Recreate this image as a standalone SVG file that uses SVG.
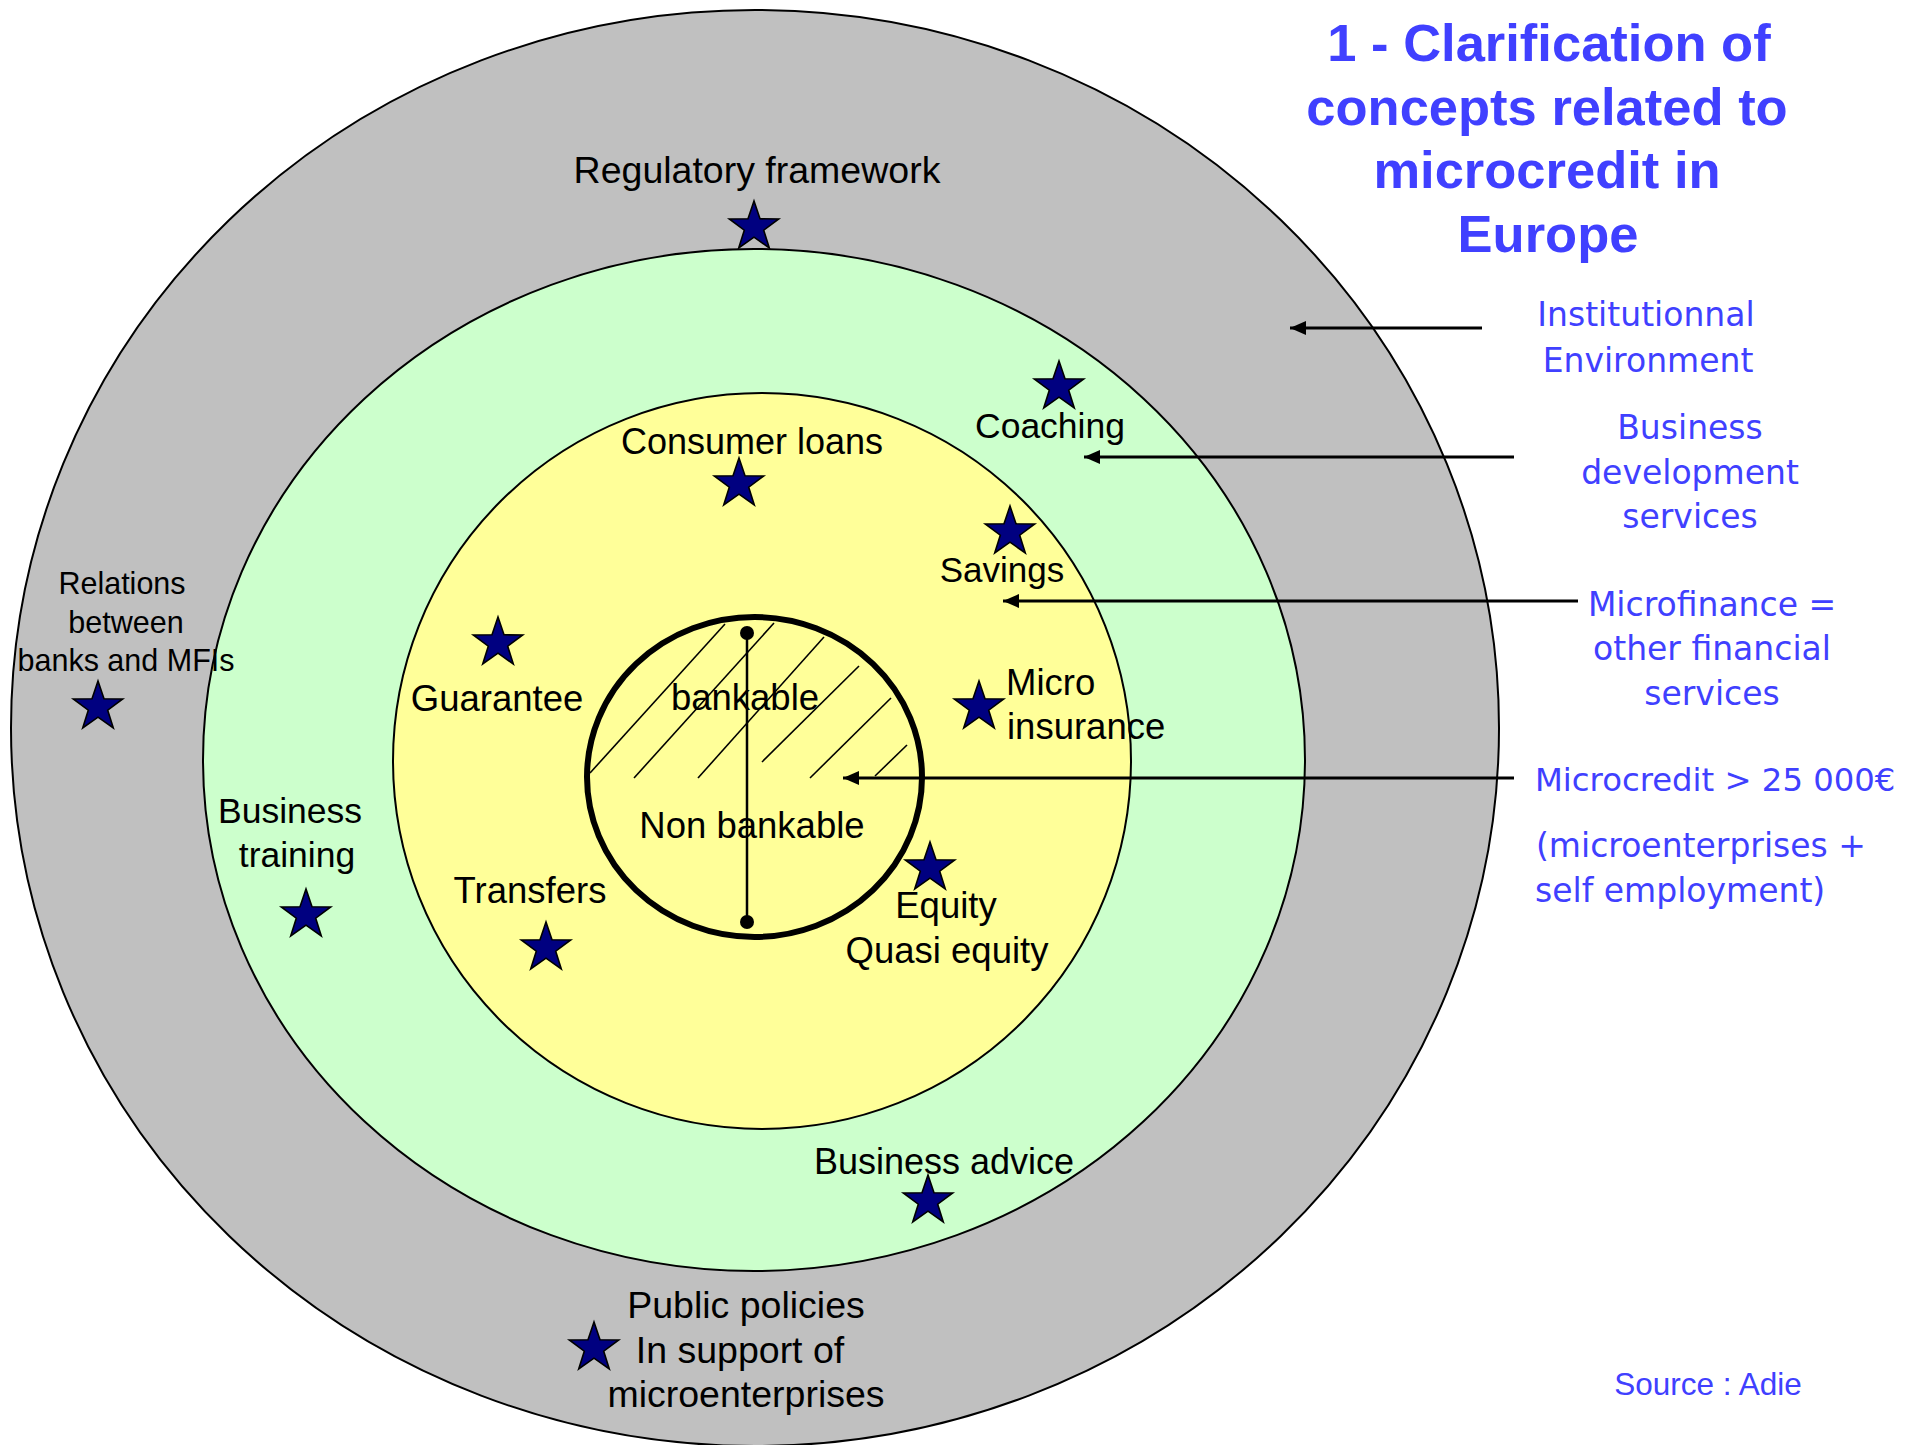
<svg xmlns="http://www.w3.org/2000/svg" xmlns:xlink="http://www.w3.org/1999/xlink" width="1917" height="1445" viewBox="0 0 1917 1445">
<style>
.ring{stroke:#000;stroke-width:2}
.lbl{font-family:"Liberation Sans",Arial,sans-serif;font-size:36.5px;fill:#000;text-anchor:middle}
.blue{font-family:"DejaVu Sans",Verdana,sans-serif;font-size:33px;fill:#4040FF;text-anchor:middle}
.title{font-family:"Liberation Sans",Arial,sans-serif;font-weight:bold;font-size:52.5px;fill:#4040FF;text-anchor:middle}
.conn{stroke:#000;stroke-width:3;fill:none;marker-end:url(#ah)}
.hatch{stroke:#000;stroke-width:1.6}
</style>
<defs>
<marker id="ah" markerUnits="userSpaceOnUse" markerWidth="16" markerHeight="14" viewBox="0 0 16 14" refX="16" refY="7" orient="auto">
<path d="M0,0 L16,7 L0,14 z" fill="#000"/>
</marker>
<path id="star" d="M0,-26 L6,-8.2 L24.7,-8 L9.7,3.2 L15.3,21 L0,10.2 L-15.3,21 L-9.7,3.2 L-24.7,-8 L-6,-8.2 Z" fill="#000080" stroke="#000" stroke-width="1.6" stroke-linejoin="miter"/>
</defs>
<rect width="1917" height="1445" fill="#fff"/>
<g id="ring-institutional"><ellipse class="ring" cx="755" cy="728" rx="744" ry="718" fill="#C0C0C0"/></g>
<g id="ring-bds"><ellipse class="ring" cx="754" cy="760" rx="551" ry="511" fill="#CCFFCC"/></g>
<g id="ring-microfinance"><ellipse class="ring" cx="762" cy="761" rx="369" ry="368" fill="#FFFF99"/></g>
<g id="ring-microcredit">
<line class="hatch" x1="590" y1="773" x2="725" y2="624"/>
<line class="hatch" x1="634" y1="778" x2="774" y2="623"/>
<line class="hatch" x1="698" y1="778" x2="824" y2="637"/>
<line class="hatch" x1="762" y1="762" x2="859" y2="666"/>
<line class="hatch" x1="810" y1="778" x2="891" y2="698"/>
<line class="hatch" x1="875" y1="776" x2="907" y2="745"/>
<ellipse cx="754.5" cy="777" rx="167.5" ry="160" fill="none" stroke="#000" stroke-width="6"/>
<line x1="747" y1="633" x2="747" y2="922" stroke="#000" stroke-width="2.5"/>
<circle cx="747" cy="633" r="7" fill="#000"/>
<circle cx="747" cy="922" r="7" fill="#000"/>
<text class="lbl" x="745" y="710">bankable</text>
<text class="lbl" x="752" y="838">Non bankable</text>
</g>
<g id="node-regulatory"><use xlink:href="#star" x="754" y="227"/><text class="lbl" x="757" y="183" style="font-size:37.5px">Regulatory framework</text></g>
<g id="node-relations"><use xlink:href="#star" x="98" y="707"/><text class="lbl" style="font-size:30.5px"><tspan x="122" y="594">Relations</tspan><tspan x="126" y="633">between</tspan><tspan x="126" y="671">banks and MFIs</tspan></text></g>
<g id="node-public"><use xlink:href="#star" x="594" y="1348"/><text class="lbl" style="font-size:37.5px"><tspan x="746" y="1318">Public policies</tspan><tspan x="740" y="1363">In support of</tspan><tspan x="746" y="1407">microenterprises</tspan></text></g>
<g id="node-coaching"><use xlink:href="#star" x="1059" y="387"/><text class="lbl" x="1050" y="438" style="font-size:35.5px">Coaching</text></g>
<g id="node-training"><use xlink:href="#star" x="306" y="915"/><text class="lbl" style="font-size:35.5px"><tspan x="290" y="823">Business</tspan><tspan x="297" y="867">training</tspan></text></g>
<g id="node-advice"><use xlink:href="#star" x="928" y="1201"/><text class="lbl" x="944" y="1174" style="font-size:36px">Business advice</text></g>
<g id="node-consumer"><use xlink:href="#star" x="739" y="484"/><text class="lbl" x="752" y="454" style="font-size:36px">Consumer loans</text></g>
<g id="node-savings"><use xlink:href="#star" x="1010" y="532"/><text class="lbl" x="1002" y="582" style="font-size:35px">Savings</text></g>
<g id="node-guarantee"><use xlink:href="#star" x="498" y="643"/><text class="lbl" x="497" y="711">Guarantee</text></g>
<g id="node-insurance"><use xlink:href="#star" x="979" y="707"/><text class="lbl" style="text-anchor:start"><tspan x="1006" y="695">Micro</tspan><tspan x="1007" y="739">insurance</tspan></text></g>
<g id="node-transfers"><use xlink:href="#star" x="546" y="948"/><text class="lbl" x="530" y="903">Transfers</text></g>
<g id="node-equity"><use xlink:href="#star" x="930" y="868"/><text class="lbl"><tspan x="946" y="918">Equity</tspan><tspan x="947" y="963">Quasi equity</tspan></text></g>
<g id="title"><text class="title"><tspan x="1549" y="61">1 - Clarification of</tspan><tspan x="1547" y="125">concepts related to</tspan><tspan x="1547" y="188">microcredit in</tspan><tspan x="1548" y="252">Europe</tspan></text></g>
<g id="label-institutional"><text class="blue"><tspan x="1646" y="326">Institutionnal</tspan><tspan x="1648" y="372">Environment</tspan></text></g>
<g id="label-bds"><text class="blue"><tspan x="1690" y="439">Business</tspan><tspan x="1690" y="484">development</tspan><tspan x="1690" y="528">services</tspan></text></g>
<g id="label-microfinance"><text class="blue"><tspan x="1712" y="616">Microfinance =</tspan><tspan x="1712" y="660">other financial</tspan><tspan x="1712" y="705">services</tspan></text></g>
<g id="label-microcredit"><text class="blue" style="text-anchor:start"><tspan x="1535" y="791" style="font-size:32.3px">Microcredit &gt; 25 000€</tspan><tspan x="1536" y="857">(microenterprises +</tspan><tspan x="1535" y="902">self employment)</tspan></text></g>
<g id="source"><text x="1708" y="1395" style="font-family:'Liberation Sans',Arial,sans-serif;font-size:31.5px;fill:#4040FF;text-anchor:middle">Source : Adie</text></g>
<g id="connectors">
<line class="conn" x1="1482" y1="328" x2="1290" y2="328"/>
<line class="conn" x1="1514" y1="457" x2="1084" y2="457"/>
<line class="conn" x1="1578" y1="601" x2="1003" y2="601"/>
<line class="conn" x1="1514" y1="778" x2="843" y2="778"/>
</g>
</svg>
